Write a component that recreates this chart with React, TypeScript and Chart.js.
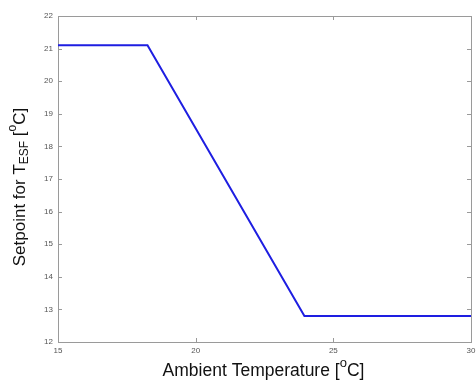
import React, { useEffect, useRef } from "react";
import { Chart, registerables } from "chart.js";

Chart.register(...registerables);

const ambientTemps = [15, 18.25, 23.95, 30];
const setpoints = [21.1, 21.1, 12.8, 12.8];
const xTicks = [15, 20, 25, 30];
const yTicks = [12, 13, 14, 15, 16, 17, 18, 19, 20, 21, 22];

const FONT = "'Liberation Sans', Arial, sans-serif";

type Part = { t: string; k: "n" | "sub" | "sup" };

function drawRich(ctx: CanvasRenderingContext2D, parts: Part[], size: number) {
  const small = Math.round(size * 0.72);
  let total = 0;
  for (const p of parts) {
    ctx.font = `${p.k === "n" ? size : small}px ${FONT}`;
    total += ctx.measureText(p.t).width;
  }
  let x = -total / 2;
  for (const p of parts) {
    ctx.font = `${p.k === "n" ? size : small}px ${FONT}`;
    const dy = p.k === "sub" ? size * 0.3 : p.k === "sup" ? -size * 0.42 : 0;
    ctx.fillText(p.t, x, dy);
    x += ctx.measureText(p.t).width;
  }
}

const framePlugin = {
  id: "frame",
  beforeDatasetsDraw(chart: any) {
    const { ctx, chartArea: a, scales } = chart;
    ctx.save();
    ctx.strokeStyle = "#9a9a9a";
    ctx.lineWidth = 1;
    ctx.strokeRect(Math.round(a.left) + 0.5, Math.round(a.top) + 0.5, Math.round(a.right - a.left), Math.round(a.bottom - a.top));
    const tl = 4;
    ctx.beginPath();
    for (const v of yTicks) {
      const y = Math.round(scales.y.getPixelForValue(v)) + 0.5;
      ctx.moveTo(a.left, y);
      ctx.lineTo(a.left + tl, y);
      ctx.moveTo(a.right, y);
      ctx.lineTo(a.right - tl, y);
    }
    for (const v of xTicks) {
      const x = Math.round(scales.x.getPixelForValue(v)) + 0.5;
      ctx.moveTo(x, a.bottom);
      ctx.lineTo(x, a.bottom - tl);
      ctx.moveTo(x, a.top);
      ctx.lineTo(x, a.top + tl);
    }
    ctx.stroke();
    ctx.restore();
  },
  afterDraw(chart: any) {
    const { ctx, chartArea: a } = chart;
    ctx.save();
    ctx.fillStyle = "#111";
    ctx.textBaseline = "middle";
    ctx.textAlign = "left";
    ctx.translate((a.left + a.right) / 2 - 1, 371);
    drawRich(
      ctx,
      [
        { t: "Ambient Temperature [", k: "n" },
        { t: "o", k: "sup" },
        { t: "C]", k: "n" },
      ],
      17.5
    );
    ctx.restore();
    ctx.save();
    ctx.fillStyle = "#111";
    ctx.textBaseline = "middle";
    ctx.textAlign = "left";
    ctx.translate(20, 187);
    ctx.rotate(-Math.PI / 2);
    drawRich(
      ctx,
      [
        { t: "Setpoint for T", k: "n" },
        { t: "ESF", k: "sub" },
        { t: " [", k: "n" },
        { t: "o", k: "sup" },
        { t: "C]", k: "n" },
      ],
      17
    );
    ctx.restore();
  },
};

export default function App() {
  const ref = useRef<HTMLCanvasElement | null>(null);
  useEffect(() => {
    document.body.style.margin = "0";
    const canvas = ref.current!;
    const chart = new Chart(canvas, {
      type: "line",
      data: {
        datasets: [
          {
            data: ambientTemps.map((x, i) => ({ x, y: setpoints[i] })),
            borderColor: "rgb(30,30,225)",
            borderWidth: 2,
            pointRadius: 0,
            fill: false,
            tension: 0,
          },
        ],
      },
      options: {
        animation: false,
        responsive: false,
        maintainAspectRatio: false,
        layout: { padding: { left: 0, top: 16, right: 5, bottom: 0 } },
        plugins: { legend: { display: false }, tooltip: { enabled: false } },
        scales: {
          x: {
            type: "linear",
            min: 15,
            max: 30,
            afterBuildTicks: (s: any) => {
              s.ticks = xTicks.map((v) => ({ value: v }));
            },
            afterFit: (s: any) => {
              s.height = 38;
              s.paddingLeft = 0;
              s.paddingRight = 0;
            },
            grid: { display: false, drawTicks: false },
            border: { display: false },
            ticks: {
              color: "#555",
              font: { size: 8, family: FONT },
              padding: 4,
              maxRotation: 0,
              autoSkip: false,
            },
          },
          y: {
            type: "linear",
            min: 12,
            max: 22,
            afterBuildTicks: (s: any) => {
              s.ticks = yTicks.map((v) => ({ value: v }));
            },
            afterFit: (s: any) => {
              s.width = 58;
              s.paddingTop = 0;
              s.paddingBottom = 0;
            },
            grid: { display: false, drawTicks: false },
            border: { display: false },
            ticks: {
              color: "#555",
              font: { size: 8, family: FONT },
              padding: 5,
              autoSkip: false,
            },
          },
        },
      },
      plugins: [framePlugin],
    });
    return () => chart.destroy();
  }, []);
  return (
    <div style={{ width: 476, height: 380 }}>
      <canvas ref={ref} width={476} height={380} />
    </div>
  );
}
